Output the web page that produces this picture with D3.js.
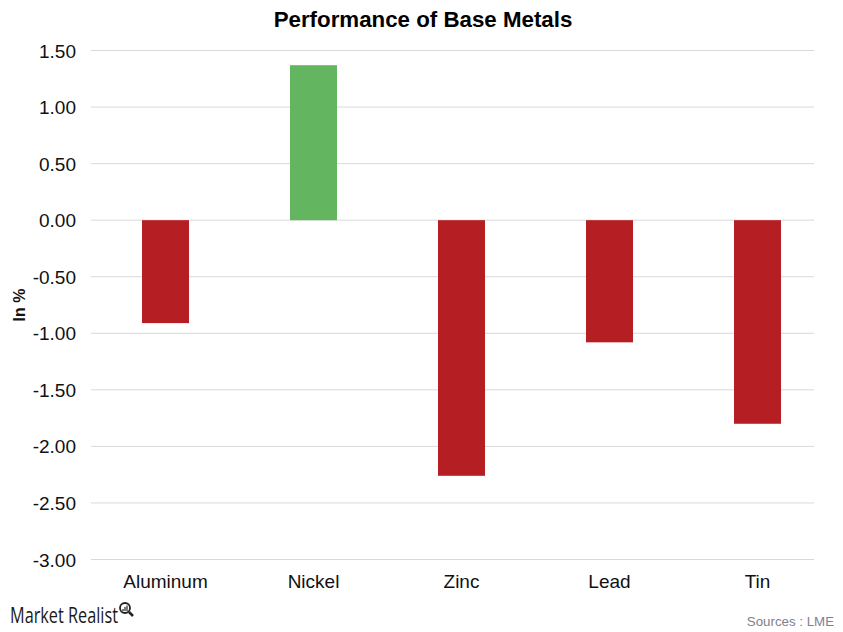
<!DOCTYPE html>
<html><head><meta charset="utf-8">
<style>html,body{margin:0;padding:0;background:#fff}svg{display:block}</style>
<script src="https://cdn.jsdelivr.net/npm/d3@7"></script></head>
<body><svg id="c" width="843" height="632"></svg>
<script>
const categories = ["Aluminum","Nickel","Zinc","Lead","Tin"];
const values = [-0.91,1.37,-2.26,-1.08,-1.80];
const tickValues = [1.5,1,0.5,0,-0.5,-1,-1.5,-2,-2.5,-3];
const titleText = "Performance of Base Metals";
const yLabel = "In %";
const sourceText = "Sources : LME";
const brandText = "Market Realist";
const svg = d3.select("#c");
const font = "'Liberation Sans', Arial, sans-serif";
const y = d3.scaleLinear().domain([-3,1.5]).range([559.5,50.5]);
const bx = d3.scalePoint().domain(categories).range([165.5,757.5]);
const bw = 47;
const fmt = d => d3.format(".2f")(d).replace("\u2212","-");
svg.append("g").selectAll("line").data(tickValues).join("line")
 .attr("x1",91).attr("x2",814).attr("y1",d=>y(d)).attr("y2",d=>y(d))
 .attr("stroke","#d9d9d9").attr("stroke-width",1);
svg.append("g").selectAll("text").data(tickValues).join("text")
 .attr("x",76).attr("y",d=>y(d)+7).attr("text-anchor","end")
 .attr("font-family",font).attr("font-size",19).attr("fill","#111").text(fmt);
svg.append("g").selectAll("rect").data(values).join("rect")
 .attr("x",(d,i)=>bx(categories[i])-bw/2)
 .attr("width",bw)
 .attr("y",d=>Math.min(y(d),y(0)))
 .attr("height",d=>Math.abs(y(d)-y(0)))
 .attr("fill",d=>d>=0?"#63b560":"#b51f24");
svg.append("g").selectAll("text").data(categories).join("text")
 .attr("x",d=>bx(d)).attr("y",588).attr("text-anchor","middle")
 .attr("font-family",font).attr("font-size",19).attr("fill","#111").text(d=>d);
svg.append("text").attr("x",423).attr("y",27).attr("text-anchor","middle")
 .attr("font-family",font).attr("font-size",22.3).attr("font-weight","bold").attr("fill","#000").text(titleText);
svg.append("text").attr("transform","translate(25,305) rotate(-90)").attr("text-anchor","middle")
 .attr("font-family",font).attr("font-size",16).attr("font-weight","bold").attr("fill","#111").text(yLabel);
svg.append("text").attr("x",834).attr("y",626).attr("text-anchor","end")
 .attr("font-family",font).attr("font-size",13.3).attr("fill","#7f7f8f").text(sourceText);
svg.append("text").attr("x",10).attr("y",623).attr("font-family","'Open Sans', sans-serif")
 .attr("font-size",21).attr("font-weight",500).attr("fill","#1a1a1a").attr("textLength",108).attr("lengthAdjust","spacingAndGlyphs").text(brandText);
const lens = svg.append("g").attr("fill","none").attr("stroke","#222");
lens.append("circle").attr("cx",125).attr("cy",608).attr("r",5).attr("stroke-width",1.8);
lens.append("line").attr("x1",129).attr("y1",612).attr("x2",133).attr("y2",616).attr("stroke-width",2.5);
lens.append("line").attr("x1",123).attr("y1",611).attr("x2",123).attr("y2",609).attr("stroke-width",1.2);
lens.append("line").attr("x1",125).attr("y1",611).attr("x2",125).attr("y2",607).attr("stroke-width",1.2);
lens.append("line").attr("x1",127).attr("y1",611).attr("x2",127).attr("y2",605.5).attr("stroke-width",1.2);
</script></body></html>
